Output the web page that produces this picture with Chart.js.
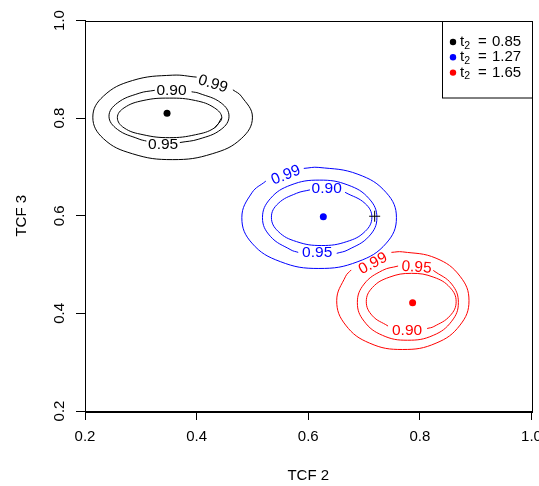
<!DOCTYPE html>
<html>
<head>
<meta charset="utf-8">
<script src="https://cdn.jsdelivr.net/npm/chart.js@4.4.1/dist/chart.umd.min.js"></script>
<style>
  html, body { margin: 0; padding: 0; background: #fff; }
</style>
</head>
<body>
<canvas id="myChart" width="539" height="486"></canvas>
<script>
// axis ticks
const xTicks = [0.2, 0.4, 0.6, 0.8, 1.0];
const yTicks = [0.2, 0.4, 0.6, 0.8, 1.0];

// groups (legend)
const groups = ['t₂ = 0.85', 't₂ = 1.27', 't₂ = 1.65'];
const groupColors = ['#000000', '#0000ff', '#ff0000'];

// centre points (TCF 2, TCF 3)
const centreX = [0.347, 0.627, 0.787];
const centreY = [0.810, 0.598, 0.422];

// the little "+" marker
const crossX = [0.719];
const crossY = [0.599];

// contour lines, [TCF 2, TCF 3]; null = break for a label
const black99 = [[0.465,0.858],[0.480,0.845],[0.500,0.802],[0.480,0.758],[0.428,0.727],[0.357,0.715],[0.285,0.727],
  [0.233,0.758],[0.214,0.802],[0.233,0.845],[0.285,0.877],[0.357,0.888],[0.400,0.884]];
const black95 = [[0.391,0.854],[0.404,0.851],[0.444,0.831],[0.458,0.804],[0.444,0.777],[0.404,0.757],[0.370,0.750], null,
  [0.310,0.753],[0.297,0.757],[0.258,0.777],[0.243,0.804],[0.258,0.831],[0.297,0.851],[0.325,0.857]];
const black90 = [[0.445,0.801],[0.432,0.780],[0.398,0.766],[0.351,0.760],[0.304,0.766],[0.270,0.780],[0.258,0.801],
  [0.270,0.821],[0.304,0.836],[0.351,0.841],[0.398,0.836],[0.432,0.821],[0.445,0.801],[0.432,0.780]];

const blue99 = [[0.592,0.697],[0.619,0.699],[0.689,0.685],[0.740,0.647],[0.758,0.596],[0.740,0.544],[0.689,0.506],
  [0.619,0.492],[0.550,0.506],[0.499,0.544],[0.481,0.596],[0.499,0.647],[0.524,0.671]];
const blue95 = [[0.582,0.525],[0.569,0.530],[0.532,0.558],[0.518,0.596],[0.532,0.635],[0.569,0.663],[0.620,0.673],
  [0.671,0.663],[0.709,0.635],[0.723,0.596],[0.709,0.558],[0.671,0.530],[0.651,0.523]];
const blue90 = [[0.666,0.648],[0.702,0.625],[0.714,0.597],[0.702,0.568],[0.669,0.547],[0.624,0.539],[0.579,0.547],
  [0.546,0.568],[0.534,0.597],[0.546,0.625],[0.579,0.646],[0.603,0.653]];

const red99 = [[0.749,0.525],[0.769,0.526],[0.829,0.513],[0.872,0.476],[0.888,0.426],[0.872,0.376],[0.829,0.339],
  [0.769,0.326],[0.710,0.339],[0.667,0.376],[0.651,0.426],[0.667,0.476],[0.677,0.489]];
const red95 = [[0.824,0.488],[0.857,0.460],[0.869,0.422],[0.857,0.384],[0.824,0.355],[0.778,0.345],[0.733,0.355],
  [0.700,0.384],[0.688,0.422],[0.700,0.460],[0.733,0.488],[0.761,0.497]];
const red90 = [[0.743,0.374],[0.715,0.395],[0.704,0.424],[0.715,0.453],[0.745,0.474],[0.785,0.482],[0.825,0.474],
  [0.854,0.453],[0.865,0.424],[0.854,0.395],[0.825,0.373],[0.813,0.369]];

// contour labels
const labelText  = ['0.99', '0.90', '0.95', '0.99', '0.90', '0.95', '0.99', '0.95', '0.90'];
const labelX     = [0.429, 0.355, 0.340, 0.560, 0.633, 0.616, 0.716, 0.794, 0.777];
const labelY     = [0.870, 0.857, 0.745, 0.683, 0.656, 0.524, 0.502, 0.494, 0.364];
const labelAngle = [17, 0, 0, -22, 0, 0, -28, 4, 0];
const labelGroup = [0, 0, 0, 1, 1, 1, 2, 2, 2];

const FONT = "'Liberation Sans', Arial, Helvetica, sans-serif";

const toPoints = arr => arr.map(p => p ? {x: p[0], y: p[1]} : {x: null, y: null});

const contour = (data, g) => ({
    data: toPoints(data),
    showLine: true,
    borderColor: groupColors[g],
    borderWidth: 1,
    pointRadius: 0,
    tension: 0.42,
    fill: false
});

const datasets = [];
groups.forEach((g, i) => {
    datasets.push({
        label: g,
        data: [{x: centreX[i], y: centreY[i]}],
        backgroundColor: groupColors[i],
        borderWidth: 0,
        pointRadius: 3.5
    });
});
datasets.push({
    label: 'cross',
    data: crossX.map((x, i) => ({x: x, y: crossY[i]})),
    pointStyle: 'cross',
    pointRadius: 5.5,
    borderColor: '#000',
    borderWidth: 1
});
[[black99, 0], [black95, 0], [black90, 0],
 [blue99, 1], [blue95, 1], [blue90, 1],
 [red99, 2], [red95, 2], [red90, 2]].forEach(c => datasets.push(contour(c[0], c[1])));

// box, contour labels and legend
const extras = {
    id: 'extras',
    afterDatasetsDraw(chart) {
        const ctx = chart.ctx;
        const a = chart.chartArea;
        const xs = chart.scales.x, ys = chart.scales.y;
        ctx.save();
        ctx.strokeStyle = '#000';
        ctx.lineWidth = 1;
        ctx.strokeRect(Math.round(a.left) + 0.5, Math.round(a.top) + 0.5,
            Math.round(a.right - a.left), Math.round(a.bottom - a.top));

        // contour labels
        ctx.font = '15.5px ' + FONT;
        ctx.textAlign = 'center';
        ctx.textBaseline = 'middle';
        labelText.forEach((t, i) => {
            ctx.save();
            ctx.translate(xs.getPixelForValue(labelX[i]), ys.getPixelForValue(labelY[i]));
            ctx.rotate(labelAngle[i] * Math.PI / 180);
            ctx.fillStyle = groupColors[labelGroup[i]];
            ctx.fillText(t, 0, 0);
            ctx.restore();
        });

        // legend, top right inside the plot
        const bw = 90, bh = 76.5;
        const bx = Math.round(a.right - bw), by = Math.round(a.top);
        ctx.fillStyle = '#fff';
        ctx.fillRect(bx, by, bw, bh);
        ctx.strokeRect(bx + 0.5, by + 0.5, bw, bh);
        ctx.textAlign = 'left';
        ctx.textBaseline = 'middle';
        groups.forEach((g, i) => {
            const y = by + 21 + i * 15.3;
            ctx.fillStyle = groupColors[i];
            ctx.beginPath();
            ctx.arc(bx + 11, y, 3.2, 0, Math.PI * 2);
            ctx.fill();
            ctx.fillStyle = '#000';
            const sub = g.split('₂');
            const rest = sub[1].trim().split(' ');   // ['=', '0.85']
            ctx.font = '15px ' + FONT;
            ctx.fillText(sub[0], bx + 18, y);
            const tw = ctx.measureText(sub[0]).width;
            ctx.font = '10.5px ' + FONT;
            ctx.fillText('2', bx + 18 + tw, y + 4);
            ctx.font = '15px ' + FONT;
            ctx.fillText(rest[0], bx + 36, y);
            ctx.fillText(rest[1], bx + 50, y);
        });
        ctx.restore();
    }
};

new Chart(document.getElementById('myChart').getContext('2d'), {
    type: 'scatter',
    data: {datasets: datasets},
    plugins: [extras],
    options: {
        responsive: false,
        animation: false,
        layout: {padding: {top: 20.5, right: 7.5, left: 0, bottom: 0}},
        plugins: {legend: {display: false}, tooltip: {enabled: false}},
        scales: {
            x: {
                type: 'linear',
                min: 0.2,
                max: 1.0,
                afterBuildTicks: s => { s.ticks = xTicks.map(v => ({value: v})); },
                afterFit: s => { s.height = 75; s.paddingLeft = 0; s.paddingRight = 0; },
                ticks: {
                    callback: v => v.toFixed(1),
                    color: '#000',
                    font: {family: FONT, size: 15},
                    padding: 8,
                    maxRotation: 0,
                    autoSkip: false
                },
                grid: {drawOnChartArea: false, drawTicks: true, tickLength: 9, tickColor: '#000', color: '#000'},
                border: {display: true, color: '#000'},
                title: {display: true, text: 'TCF 2', color: '#000', font: {family: FONT, size: 15}, padding: {top: 0, bottom: 1}}
            },
            y: {
                type: 'linear',
                min: 0.2,
                max: 1.0,
                afterBuildTicks: s => { s.ticks = yTicks.map(v => ({value: v})); },
                afterFit: s => { s.width = 85; s.paddingTop = 0; s.paddingBottom = 0; },
                ticks: {
                    callback: v => v.toFixed(1),
                    color: '#000',
                    font: {family: FONT, size: 15},
                    padding: 6,
                    minRotation: 90,
                    maxRotation: 90,
                    crossAlign: 'center',
                    autoSkip: false
                },
                grid: {drawOnChartArea: false, drawTicks: true, tickLength: 9, tickColor: '#000', color: '#000'},
                border: {display: true, color: '#000'},
                title: {display: true, text: 'TCF 3', color: '#000', font: {family: FONT, size: 15}, padding: {top: 13, bottom: 0}}
            }
        }
    }
});
</script>
</body>
</html>
